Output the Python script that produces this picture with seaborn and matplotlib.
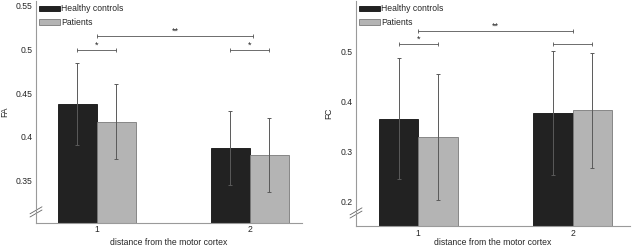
import numpy as np
import pandas as pd
import matplotlib
matplotlib.use("Agg")
import matplotlib.pyplot as plt
import seaborn as sns

sns.set_theme(style="white")
plt.rcParams['font.family'] = ['Liberation Sans', 'DejaVu Sans']

distances = ["1", "2"]
groups = ["Healthy controls", "Patients"]

fa_hc = [0.437, 0.387]
fa_pt = [0.417, 0.379]
fa_hc_err = [0.047, 0.042]
fa_pt_err = [0.043, 0.042]

fc_hc = [0.365, 0.377]
fc_pt = [0.328, 0.382]
fc_hc_err = [0.121, 0.124]
fc_pt_err = [0.126, 0.115]

colors = ["#222222", "#b4b4b4"]
edges = ["#111111", "#7a7a7a"]
FS = 6.2
SPINE = "#9a9a9a"


def make_df(hc, pt, hc_err, pt_err):
    rows = []
    for i, d in enumerate(distances):
        rows.append(dict(distance=d, group=groups[0], value=hc[i], err=hc_err[i]))
        rows.append(dict(distance=d, group=groups[1], value=pt[i], err=pt_err[i]))
    return pd.DataFrame(rows)


def draw(ax, df, ylim, yticks, ylabel, xlim, brackets, ylabelpad, xtickpad, xlabelpad):
    sns.barplot(data=df, x="distance", y="value", hue="group", order=distances,
                hue_order=groups, palette=colors, width=0.51, errorbar=None,
                ax=ax, linewidth=0.6, saturation=1)
    for gi, (cont, g) in enumerate(zip(ax.containers, groups)):
        sub = df[df.group == g].set_index("distance").loc[distances]
        for di, patch in enumerate(cont.patches):
            patch.set_edgecolor(edges[gi])
            cx = patch.get_x() + patch.get_width() / 2
            ax.errorbar(cx, sub["value"].iloc[di], yerr=sub["err"].iloc[di],
                        fmt="none", ecolor="#5a5a5a", elinewidth=0.7,
                        capsize=1.2, capthick=0.7, zorder=3)
    ax.set_ylim(*ylim)
    ax.set_xlim(*xlim)
    ax.set_yticks(yticks)
    ax.set_yticklabels([("%g" % t) for t in yticks], fontsize=FS)
    ax.set_xticks([0, 1])
    ax.set_xticklabels(distances, fontsize=FS)
    ax.set_ylabel(ylabel, fontsize=FS, labelpad=ylabelpad)
    ax.set_xlabel("distance from the motor cortex", fontsize=FS, labelpad=xlabelpad)
    ax.tick_params(axis="y", length=2, width=0.6, color=SPINE, pad=2.5, direction="in")
    ax.tick_params(axis="x", length=2, width=0.6, color=SPINE, pad=xtickpad, direction="in")
    for s in ["top", "right"]:
        ax.spines[s].set_visible(False)
    for s in ["left", "bottom"]:
        ax.spines[s].set_color(SPINE)
        ax.spines[s].set_linewidth(0.8)
    for (x1, x2, y, txt) in brackets:
        ax.plot([x1, x2], [y, y], color="#555555", lw=0.6, marker="|", ms=3.5,
                mew=0.6, zorder=4)
        if txt:
            ax.text((x1 + x2) / 2, y, txt, ha="center", va="bottom", fontsize=FS + 0.5,
                    color="#222222")
    leg = ax.legend(loc="upper left", bbox_to_anchor=(0.0, 1.0), frameon=False,
                    fontsize=FS, handlelength=2.4, handleheight=0.65, handletextpad=0.15,
                    labelspacing=0.55, borderaxespad=0.2, borderpad=0.2)
    for h, e in zip(leg.legend_handles, edges):
        h.set_edgecolor(e)
        h.set_linewidth(0.6)


fig = plt.figure(figsize=(6.35, 2.46), dpi=100)
ax1 = fig.add_axes([36 / 635, 23 / 246, 266 / 635, 222 / 246])
ax2 = fig.add_axes([356 / 635, 20 / 246, 274 / 635, 225 / 246])

df1 = make_df(fa_hc, fa_pt, fa_hc_err, fa_pt_err)
df2 = make_df(fc_hc, fc_pt, fc_hc_err, fc_pt_err)

hw = 0.1275
draw(ax1, df1, (0.301, 0.5557), [0.35, 0.4, 0.45, 0.5, 0.55], "FA", (-0.397, 1.34),
     [(-hw, hw, 0.500, "*"), (1 - hw, 1 + hw, 0.500, "*"), (0, 1.02, 0.516, "**")],
     4.5, 1.5, 3)
draw(ax2, df2, (0.151, 0.600), [0.2, 0.3, 0.4, 0.5], "FC", (-0.403, 1.371),
     [(-hw, hw, 0.515, "*"), (1 - hw, 1 + hw, 0.515, ""), (0, 1.0, 0.5406, "**")],
     5, 2.0, 0.0)

# axis break marks
for ax, yb in ((ax1, 0.05), (ax2, 0.058)):
    bb = ax.get_position()
    wpx = bb.width * 635
    hpx = bb.height * 246
    dx = 6 / wpx
    dy = 3.5 / hpx
    for off in (-1.6 / hpx, 1.6 / hpx):
        ax.plot([-dx, dx], [yb - dy + off, yb + dy + off], transform=ax.transAxes,
                color="#666666", lw=0.6, clip_on=False)

fig.savefig("out.png", dpi=100)
